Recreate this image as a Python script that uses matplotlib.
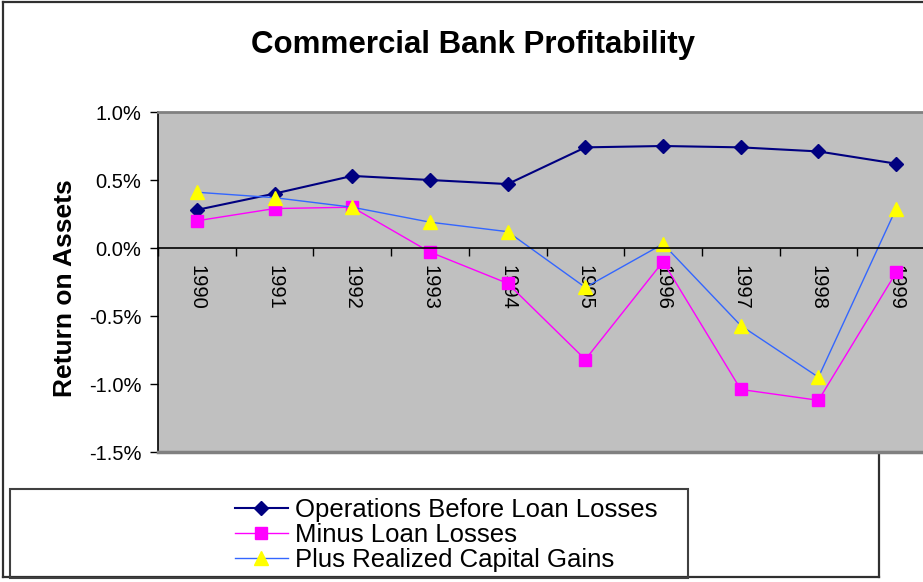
"""Commercial Bank Profitability 차트를 Excel 스타일로 다시 그린다."""

import matplotlib

matplotlib.use("Agg")
import matplotlib.pyplot as plt
import numpy as np
from matplotlib.lines import Line2D
from matplotlib.patches import Rectangle
from matplotlib.ticker import FuncFormatter

YEARS = ["1990", "1991", "1992", "1993", "1994", "1995", "1996", "1997", "1998", "1999"]
# Return on assets, in percent
OPERATIONS = [0.28, 0.40, 0.53, 0.50, 0.47, 0.74, 0.75, 0.74, 0.71, 0.62]
MINUS_LOAN_LOSSES = [0.20, 0.29, 0.30, -0.03, -0.26, -0.82, -0.10, -1.04, -1.12, -0.18]
PLUS_CAPITAL_GAINS = [0.41, 0.37, 0.30, 0.19, 0.12, -0.29, 0.03, -0.57, -0.95, 0.29]
SERIES_LABELS = ["Operations Before Loan Losses", "Minus Loan Losses", "Plus Realized Capital Gains"]
Y_TICKS = [-1.5, -1.0, -0.5, 0.0, 0.5, 1.0]

W, H = 923, 582
plt.rcParams["font.family"] = ["Liberation Sans", "DejaVu Sans"]

fig = plt.figure(figsize=(W / 100, H / 100), dpi=100)


def fig_line(xs, ys):
    """픽셀 좌표로 figure 테두리 선을 그린다."""
    fig.lines.append(Line2D([v / W for v in xs], [1 - v / H for v in ys], transform=fig.transFigure,
                            color="#303030", linewidth=1.6, zorder=0))


# chart area border (Excel screenshot, right part covered by the plot area)
fig_line([3, 3], [2, 577])
fig_line([3, W], [2, 2])
fig_line([3, 879], [577, 577])
fig_line([879, 879], [452, 577])

ax = fig.add_axes([158 / W, 1 - 452 / H, 777 / W, 340 / H], zorder=1)
ax.set_facecolor("#C0C0C0")

x = np.arange(len(YEARS))
ax.plot(x, OPERATIONS, color="#000080", linewidth=1.5, marker="D", markersize=6.8,
        markerfacecolor="#000080", markeredgecolor="#000080", label=SERIES_LABELS[0])
ax.plot(x, MINUS_LOAN_LOSSES, color="#FF00FF", linewidth=1.0, marker="s", markersize=8.5,
        markerfacecolor="#FF00FF", markeredgecolor="#FF00FF", label=SERIES_LABELS[1])
ax.plot(x, PLUS_CAPITAL_GAINS, color="#3366FF", linewidth=1.0, marker="^", markersize=10,
        markerfacecolor="#FFFF00", markeredgecolor="#FFFF00", label=SERIES_LABELS[2])

ax.set_xlim(-0.5, len(YEARS) - 0.5)
ax.set_ylim(Y_TICKS[0], Y_TICKS[-1])
ax.set_yticks(Y_TICKS)
ax.yaxis.set_major_formatter(FuncFormatter(lambda v, _: f"{v:.1f}%"))
ax.tick_params(axis="y", direction="out", length=6, width=1, labelsize=14.5, pad=6)

# category boundaries get the tick marks, year labels sit at the centres
ax.set_xticks(np.arange(-0.5, len(YEARS)), labels=[])
ax.set_xticks(x, labels=YEARS, minor=True)
ax.tick_params(axis="x", which="major", direction="out", length=6, width=1)
ax.tick_params(axis="x", which="minor", length=0, pad=12, labelsize=14.5, labelrotation=270)

ax.spines["bottom"].set_position(("data", 0))
ax.spines["bottom"].set_linewidth(1.2)
ax.spines["left"].set_linewidth(1.2)
ax.spines["top"].set_color("#808080")
ax.spines["top"].set_linewidth(2)
ax.spines["right"].set_visible(False)
ax.axhline(Y_TICKS[0], color="#808080", linewidth=2.5, clip_on=False, zorder=3)

ax.set_ylabel("Return on Assets", fontsize=19, fontweight="bold")
ax.yaxis.set_label_coords(-0.104, 0.482)

fig.text(473 / W, 1 - 45 / H, "Commercial Bank Profitability", ha="center", va="center",
         fontsize=22.5, fontweight="bold")

# legend box is wider than its entries, as in Excel
fig.patches.append(
    Rectangle((10 / W, 1 - 578 / H), 678 / W, 89 / H, transform=fig.transFigure,
              fill=False, edgecolor="#404040", linewidth=1.5, zorder=0)
)
handles, labels = ax.get_legend_handles_labels()
fig.legend(handles, labels, loc="center left", bbox_to_anchor=(235 / W, 1 - 535 / H),
           frameon=False, fontsize=18.5, handlelength=2.06, handletextpad=0.27,
           labelspacing=0.04, borderpad=0, borderaxespad=0)

fig.savefig("out.png", dpi=100)
